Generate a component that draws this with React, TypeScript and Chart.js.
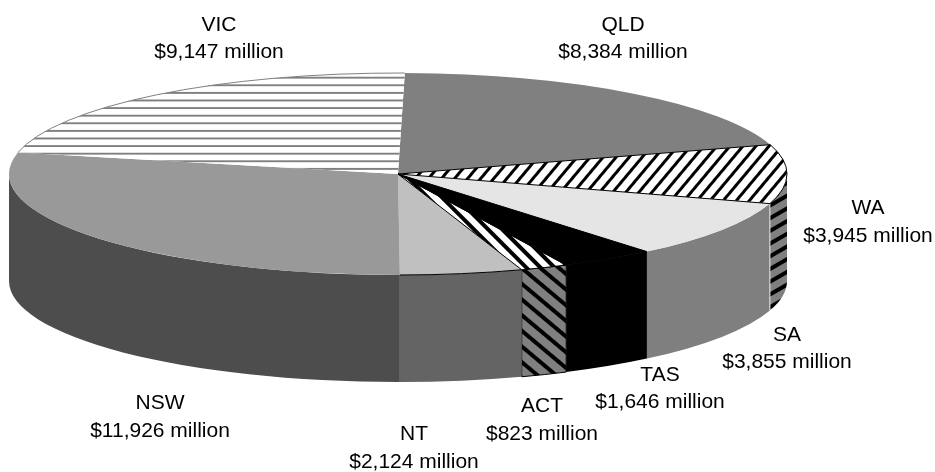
import React, { useEffect, useRef } from "react";
import { Chart, registerables } from "chart.js";

Chart.register(...registerables);

const categories = ["QLD", "WA", "SA", "TAS", "ACT", "NT", "NSW", "VIC"];
const amounts = [8384, 3945, 3855, 1646, 823, 2124, 11926, 9147];
const valueLabels = ["$8,384 million", "$3,945 million", "$3,855 million", "$1,646 million", "$823 million", "$2,124 million", "$11,926 million", "$9,147 million"];

// centre x, first-line baseline and second-line baseline of each label
const LABEL_POS: [number, number, number][] = [[623, 31, 58], [868, 214, 242], [787, 341, 368], [660, 381, 408], [542, 412, 440], [414, 440, 468], [160, 409, 437], [219, 31, 58]];

const W = 935, H = 472;
const CX = 398, CY = 174, RX = 389, RY = 101, DEPTH = 107;
const FONT = '21px "Liberation Sans", Arial, sans-serif';

function stripe(ctx: CanvasRenderingContext2D, base: string, band: string, period: number, width: number, angleDeg: number, sx = 1, sy = 1, offset = 0) {
  const tile = document.createElement("canvas");
  const h = Math.ceil(period);
  tile.width = 2;
  tile.height = h;
  const t = tile.getContext("2d")!;
  t.fillStyle = base;
  t.fillRect(0, 0, tile.width, h);
  t.fillStyle = band;
  t.fillRect(0, 0, tile.width, Math.round(width));
  const p = ctx.createPattern(tile, "repeat")!;
  const k = period / h;
  const m = new DOMMatrix().scale(1 / sx, 1 / sy).translate(0, offset).rotate(angleDeg).scale(k, k);
  p.setTransform(m);
  return p;
}

export default function App() {
  const ref = useRef<HTMLCanvasElement>(null);
  useEffect(() => {
    const canvas = ref.current!;
    const ctx = canvas.getContext("2d")!;
    const geo = { sx: 1, sy: 1 };

    const side = [
      "#808080",
      stripe(ctx, "#808080", "#000000", 11, 4, -30),
      "#7f7f7f",
      "#000000",
      stripe(ctx, "#808080", "#000000", 12, 4, 40),
      "#646464",
      "#4d4d4d",
      "#ffffff",
    ];

    const pie3d = {
      id: "pie3d",
      beforeDatasetsDraw(chart: Chart) {
        const meta = chart.getDatasetMeta(0);
        const arcs = meta.data as any[];
        const R = arcs[0].outerRadius;
        geo.sx = RX / R;
        geo.sy = RY / R;
        const c = chart.ctx;
        c.save();
        arcs.forEach((a, i) => {
          const s = Math.max(a.startAngle, 0);
          const e = Math.min(a.endAngle, Math.PI);
          if (e <= s) return;
          c.beginPath();
          c.ellipse(CX, CY, RX, RY, 0, s, e);
          c.ellipse(CX, CY + DEPTH, RX, RY, 0, e, s, true);
          c.closePath();
          c.fillStyle = side[i] as any;
          c.fill();
          if (i === 4) {
            c.strokeStyle = "#000";
            c.lineWidth = 1;
            c.stroke();
          }
        });
        // light seam between the SA and WA walls
        const sa = arcs[2].startAngle;
        const sxp = CX + RX * Math.cos(sa);
        const syp = CY + RY * Math.sin(sa);
        c.beginPath();
        c.moveTo(sxp, syp);
        c.lineTo(sxp, syp + DEPTH);
        c.strokeStyle = "#e8e8e8";
        c.lineWidth = 1;
        c.stroke();
        c.restore();
        c.save();
        c.translate(CX, CY);
        c.scale(geo.sx, geo.sy);
        c.translate(-arcs[0].x, -arcs[0].y);
      },
      afterDatasetsDraw(chart: Chart) {
        const c = chart.ctx;
        c.restore();
        const arcs = chart.getDatasetMeta(0).data as any[];
        c.save();
        [1, 3, 4, 5].forEach((i) => {
          const a = arcs[i];
          c.beginPath();
          if (i === 5) {
            c.ellipse(CX, CY, RX, RY, 0, a.startAngle, a.endAngle);
          } else {
            c.moveTo(CX, CY);
            c.ellipse(CX, CY, RX, RY, 0, a.startAngle, a.endAngle);
            c.closePath();
          }
          c.strokeStyle = "#000";
          c.lineWidth = 1;
          c.stroke();
        });
        const v = arcs[7];
        c.beginPath();
        c.ellipse(CX, CY, RX, RY, 0, v.startAngle, v.endAngle);
        c.strokeStyle = "#808080";
        c.lineWidth = 1;
        c.stroke();
        c.fillStyle = "#000";
        c.font = FONT;
        c.textAlign = "center";
        c.textBaseline = "alphabetic";
        categories.forEach((name, i) => {
          const [x, y1, y2] = LABEL_POS[i];
          c.fillText(name, x, y1);
          c.fillText(valueLabels[i], x, y2);
        });
        c.restore();
      },
    };

    const preR = H / 2;
    const psx = RX / preR, psy = RY / preR;
    const top = [
      "#808080",
      stripe(ctx, "#ffffff", "#000000", 10, 3, -50, psx, psy),
      "#e5e5e5",
      "#000000",
      stripe(ctx, "#ffffff", "#000000", 10, 4, 45, psx, psy),
      "#c0c0c0",
      "#999999",
      stripe(ctx, "#ffffff", "#808080", 7.6, 2, 0, psx, psy, 3.7),
    ];

    const chart = new Chart(canvas, {
      type: "pie",
      data: {
        labels: categories,
        datasets: [{ data: amounts, backgroundColor: top as any, borderWidth: 0, clip: false as any }],
      },
      options: {
        responsive: false,
        animation: false,
        rotation: 1,
        layout: { padding: 0 },
        plugins: { legend: { display: false }, tooltip: { enabled: false } },
      },
      plugins: [pie3d as any],
    });
    return () => chart.destroy();
  }, []);
  return <canvas ref={ref} width={W} height={H} style={{ position: "fixed", left: 0, top: 0, display: "block" }} />;
}
